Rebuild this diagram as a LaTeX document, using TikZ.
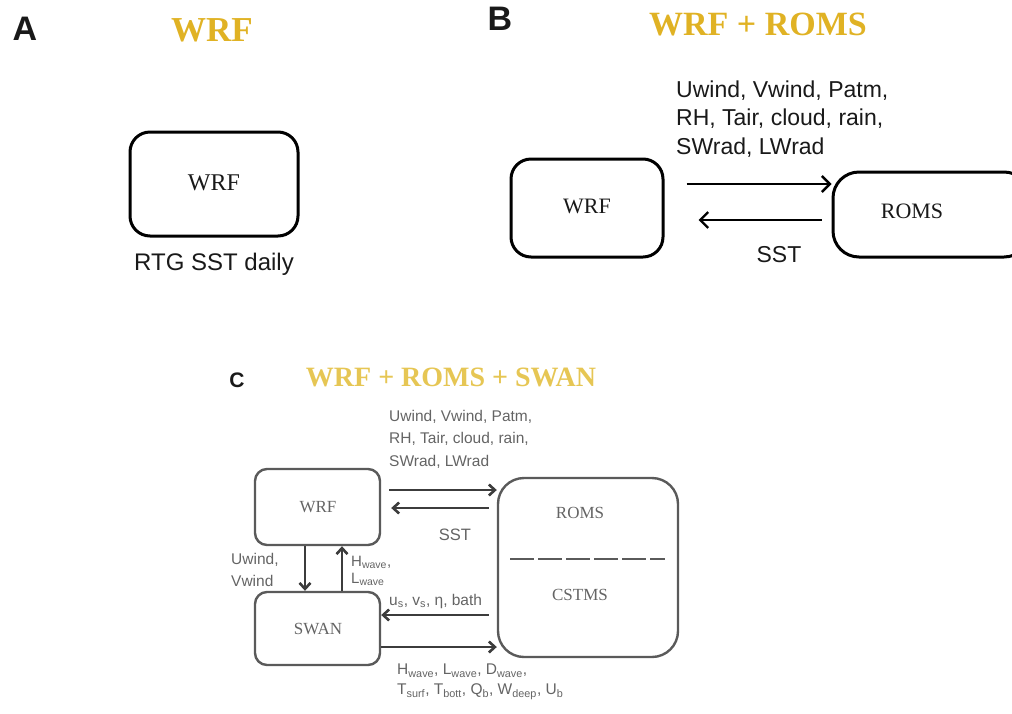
\documentclass[tikz,border=0pt]{standalone}
\usepackage{fontspec}
\setmainfont{Liberation Serif}
\setsansfont{Liberation Sans}
\usetikzlibrary{arrows.meta}
\definecolor{goldA}{RGB}{224,178,36}
\definecolor{goldC}{RGB}{230,198,84}
\definecolor{txtC}{RGB}{100,100,100}
\definecolor{lineC}{RGB}{90,90,90}
\definecolor{arrC}{RGB}{60,60,60}
\definecolor{txtB}{RGB}{25,25,25}
\tikzset{
  boxAB/.style={draw=black, line width=3pt, rounded corners=20pt, inner sep=0pt},
  boxC/.style={draw=lineC, line width=2.4pt, rounded corners=12pt, inner sep=0pt},
  bigtitle/.style={text=goldA, font=\bfseries\fontsize{35}{40}\selectfont},
  ctitle/.style={text=goldC, font=\bfseries\fontsize{28}{32}\selectfont},
  panel/.style={font=\sffamily\bfseries\fontsize{34}{38}\selectfont, text=black!90},
  lblB/.style={font=\sffamily\fontsize{23}{28.5}\selectfont, text=txtB, align=left, inner sep=0pt},
  lblC/.style={font=\sffamily\fontsize{15.5}{22.5}\selectfont, text=txtC, align=left, inner sep=0pt},
  boxtxtB/.style={font=\fontsize{22}{26}\selectfont, text=txtB},
  boxtxtC/.style={font=\fontsize{17}{20}\selectfont, text=txtC},
  arrB/.style={line width=2.4pt, -{Straight Barb[length=8pt,width=16pt,line width=2.4pt]}},
  arrC/.style={draw=arrC, line width=2.6pt, -{Straight Barb[length=6pt,width=11pt,line width=2.6pt]}}
}
\begin{document}
\begin{tikzpicture}[x=1pt,y=-1pt]
\path[use as bounding box] (0,0) rectangle (1012,713);
% ---------- Panel A
\node[panel] (labA) at (25,29) {A};
\node[bigtitle] (titA) at (212,30) {WRF};
\node[boxAB, minimum width=168pt, minimum height=104pt] (wrfA) at (214,184) {};
\node[boxtxtB, font=\fontsize{24}{28}\selectfont] (wrfAt) at (214,183) {WRF};
\node[lblB, font=\sffamily\fontsize{24}{28}\selectfont] (rtg) at (214,264) {RTG SST daily};
% ---------- Panel B
\node[panel] (labB) at (500,19) {B};
\node[bigtitle, font=\bfseries\fontsize{34}{40}\selectfont] (titB) at (758,24) {WRF + ROMS};
\node[boxAB, minimum width=152pt, minimum height=98pt] (wrfB) at (587,208) {};
\node[boxtxtB] (wrfBt) at (587,206) {WRF};
\node[boxAB, rounded corners=26pt, minimum width=197pt, minimum height=85pt] (romsB) at (931.5,214.5) {};
\node[boxtxtB] (romsBt) at (912,211) {ROMS};
\draw[arrB, shorten <=22pt] ([yshift=24pt]wrfB.east) -- ([yshift=24pt]wrfB.east -| romsB.west);
\draw[arrB, shorten <=10pt, shorten >=34pt] ([yshift=-12pt]wrfB.east -| romsB.west) -- ([yshift=-12pt]wrfB.east);
\node[lblB, anchor=west] (fluxB) at (676,119) {Uwind, Vwind, Patm,\\RH, Tair, cloud, rain,\\SWrad, LWrad};
\node[lblB] (sstB) at (779,255) {SST};
% ---------- Panel C
\node[panel, font=\sffamily\bfseries\fontsize{21}{24}\selectfont] (labC) at (237,380) {C};
\node[ctitle] (titC) at (451,377) {WRF + ROMS + SWAN};
\node[boxC, minimum width=125pt, minimum height=76pt] (wrfC) at (317.5,507) {};
\node[boxtxtC] (wrfCt) at (318,507) {WRF};
\node[boxC, minimum width=125pt, minimum height=73pt] (swanC) at (317.5,628.5) {};
\node[boxtxtC] (swanCt) at (318,629) {SWAN};
\node[boxC, rounded corners=26pt, minimum width=180pt, minimum height=179pt] (romsC) at (588,567.5) {};
\node[boxtxtC] (romsCt) at (580,513) {ROMS};
\node[boxtxtC] (cstmsC) at (580,595) {CSTMS};
\coordinate (dashL) at (510,559);
\coordinate (dashR) at (665,559);
\draw[draw=lineC, line width=2.2pt, dash pattern=on 24pt off 4pt] (dashL) -- (dashR);
% vertical arrows
\draw[arrC] ([xshift=-12.5pt]wrfC.south) -- ([xshift=-12.5pt]swanC.north);
\draw[arrC] ([xshift=24.5pt]swanC.north) -- ([xshift=24.5pt]wrfC.south);
% horizontal arrows
\draw[arrC, shorten <=8pt] ([yshift=17pt]wrfC.east) -- ([yshift=17pt]wrfC.east -| romsC.west);
\draw[arrC, shorten <=8pt, shorten >=10pt] ([yshift=-1pt]wrfC.east -| romsC.west) -- ([yshift=-1pt]wrfC.east);
\draw[arrC, shorten <=8pt] ([yshift=13.5pt]swanC.east -| romsC.west) -- ([yshift=13.5pt]swanC.east);
\draw[arrC] ([yshift=-18.5pt]swanC.east) -- ([yshift=-18.5pt]swanC.east -| romsC.west);
% labels
\node[lblC, anchor=west] (fluxC) at (389,439) {Uwind, Vwind, Patm,\\RH, Tair, cloud, rain,\\SWrad, LWrad};
\node[lblC, font=\sffamily\fontsize{16.5}{20}\selectfont] (sstC) at (455,535) {SST};
\node[lblC, anchor=west] (windC) at (231,570) {Uwind,\\Vwind};
\node[lblC, anchor=west, font=\sffamily\fontsize{15}{17}\selectfont] (hlC) at (351,571) {H\textsubscript{wave},\\L\textsubscript{wave}};
\node[lblC, anchor=west] (usC) at (389,601) {u\textsubscript{s}, v\textsubscript{s}, η, bath};
\node[lblC, anchor=north west, font=\sffamily\fontsize{15.5}{20}\selectfont] (waveC) at (397,664) {H\textsubscript{wave}, L\textsubscript{wave}, D\textsubscript{wave},\\T\textsubscript{surf}, T\textsubscript{bott}, Q\textsubscript{b}, W\textsubscript{deep}, U\textsubscript{b}};
\end{tikzpicture}
\end{document}
